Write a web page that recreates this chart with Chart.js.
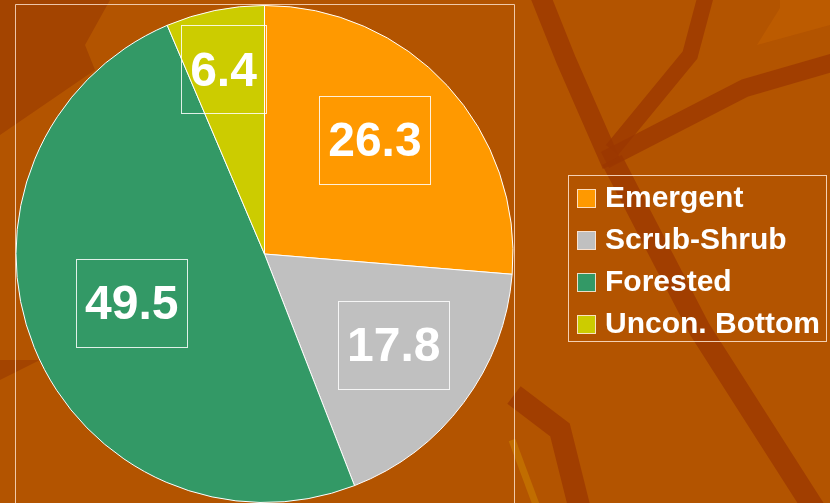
<!DOCTYPE html>
<html>
<head>
<meta charset="utf-8">
<script src="https://cdn.jsdelivr.net/npm/chart.js@4.4.1/dist/chart.umd.min.js"></script>
<style>
  html, body { margin: 0; padding: 0; background: #B35400; }
  #wrap { width: 830px; height: 503px; position: relative; }
</style>
</head>
<body>
<div id="wrap"><canvas id="c" width="830" height="503"></canvas></div>
<script>
const categories = ["Emergent", "Scrub-Shrub", "Forested", "Uncon. Bottom"];
const values = [26.3, 17.8, 49.5, 6.4];
const valueLabels = ["26.3", "17.8", "49.5", "6.4"];
const colors = ["#FF9900", "#C0C0C0", "#339966", "#CCCC00"];

const backgroundPlugin = {
  id: 'bg',
  beforeDraw(chart) {
    const ctx = chart.ctx;
    ctx.save();
    ctx.fillStyle = '#B35400';
    ctx.fillRect(0, 0, chart.width, chart.height);
    // lighter patch top right
    ctx.fillStyle = 'rgba(200,100,0,0.45)';
    ctx.beginPath();
    ctx.moveTo(780, 0); ctx.lineTo(830, 0); ctx.lineTo(830, 25); ctx.lineTo(757, 45); ctx.lineTo(780, 8); ctx.closePath(); ctx.fill();
    // darker top-left area
    ctx.fillStyle = 'rgba(150,55,0,0.55)';
    ctx.beginPath();
    ctx.moveTo(0, 0); ctx.lineTo(110, 0); ctx.lineTo(85, 45); ctx.lineTo(95, 70); ctx.lineTo(0, 135); ctx.closePath(); ctx.fill();
    ctx.beginPath();
    ctx.moveTo(0, 360); ctx.lineTo(40, 360); ctx.lineTo(0, 380); ctx.closePath(); ctx.fill();
    // dark branches
    ctx.strokeStyle = 'rgba(155,55,0,0.75)';
    ctx.lineCap = 'butt';
    const branch = (pts, w) => {
      ctx.lineWidth = w;
      ctx.beginPath();
      ctx.moveTo(pts[0][0], pts[0][1]);
      for (let i = 1; i < pts.length; i++) ctx.lineTo(pts[i][0], pts[i][1]);
      ctx.stroke();
    };
    branch([[540, -5], [566, 60], [612, 165]], 20);
    branch([[706, -5], [690, 55], [612, 150]], 16);
    branch([[605, 160], [745, 88], [835, 62]], 18);
    branch([[612, 160], [700, 330], [815, 510]], 22);
    branch([[514, 395], [560, 430], [580, 510]], 22);
    // golden streak
    ctx.strokeStyle = 'rgba(200,120,0,0.7)';
    branch([[512, 440], [538, 510]], 7);
    ctx.restore();
  }
};

const overlayPlugin = {
  id: 'overlay',
  afterDraw(chart, args, opts) {
    const ctx = chart.ctx;
    const meta = chart.getDatasetMeta(0);
    ctx.save();
    // plot area frame
    ctx.strokeStyle = 'rgba(255,230,210,0.8)';
    ctx.lineWidth = 1;
    ctx.beginPath();
    ctx.moveTo(15.5, 503); ctx.lineTo(15.5, 4.5); ctx.lineTo(514.5, 4.5); ctx.lineTo(514.5, 503);
    ctx.stroke();

    // data labels
    ctx.font = 'bold 48px "Liberation Sans", Arial, sans-serif';
    ctx.textAlign = 'center';
    ctx.textBaseline = 'middle';
    meta.data.forEach((arc, i) => {
      const p = arc.getProps(['x', 'y', 'startAngle', 'endAngle', 'outerRadius'], true);
      const mid = (p.startAngle + p.endAngle) / 2 + opts.angleShift[i] * Math.PI / 180;
      const r = p.outerRadius * opts.radial[i];
      const cx = p.x + Math.cos(mid) * r;
      const cy = p.y + Math.sin(mid) * r;
      const txt = valueLabels[i];
      const w = ctx.measureText(txt).width + 18;
      const h = 88;
      ctx.strokeStyle = 'rgba(255,255,255,0.85)';
      ctx.strokeRect(Math.round(cx - w / 2) + 0.5, Math.round(cy - h / 2) + 0.5, Math.round(w), h);
      ctx.fillStyle = '#FFFFFF';
      ctx.fillText(txt, cx, cy + 3);
    });

    // legend
    const lx = 568.5, ly = 175.5, lw = 258, lh = 166;
    ctx.strokeStyle = 'rgba(255,230,210,0.85)';
    ctx.strokeRect(lx, ly, lw, lh);
    ctx.font = 'bold 30px "Liberation Sans", Arial, sans-serif';
    ctx.textAlign = 'left';
    ctx.textBaseline = 'middle';
    categories.forEach((name, i) => {
      const yc = 198 + i * 42;
      ctx.fillStyle = colors[i];
      ctx.fillRect(577, yc - 9, 19, 19);
      ctx.strokeStyle = 'rgba(255,230,210,0.9)';
      ctx.strokeRect(577.5, yc - 8.5, 18, 18);
      ctx.fillStyle = '#FFFFFF';
      ctx.fillText(name, 605, yc + 1);
    });
    ctx.restore();
  }
};

new Chart(document.getElementById('c'), {
  type: 'pie',
  data: {
    labels: categories,
    datasets: [{
      data: values,
      backgroundColor: colors,
      borderColor: '#FFFFFF',
      borderWidth: 1
    }]
  },
  options: {
    responsive: false,
    animation: false,
    layout: { padding: { left: 15, right: 316, top: 5, bottom: 0 } },
    plugins: {
      legend: { display: false },
      tooltip: { enabled: false },
      overlay: { radial: [0.638, 0.636, 0.569, 0.761], angleShift: [-3.2, -1.6, 1.9, -1.0] }
    }
  },
  plugins: [backgroundPlugin, overlayPlugin]
});
</script>
</body>
</html>
